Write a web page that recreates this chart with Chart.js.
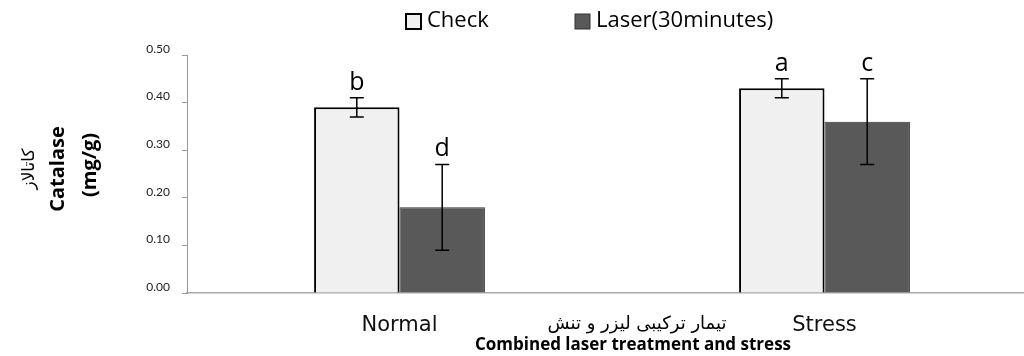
<!DOCTYPE html>
<html>
<head>
<meta charset="utf-8">
<script src="https://cdn.jsdelivr.net/npm/chart.js@4/dist/chart.umd.min.js"></script>
<style>
  html, body { margin: 0; padding: 0; background: #fff; overflow: hidden; }
  #wrap { position: relative; width: 1037px; height: 356px; }
</style>
</head>
<body>
<div id="wrap"><canvas id="myChart"></canvas></div>
<script>
// data
var categories = ['Normal', 'Stress'];
var seriesNames = ['Check', 'Laser(30minutes)'];
var checkValues = [0.39, 0.43];
var laserValues = [0.18, 0.36];
var checkErrors = [0.02, 0.02];
var laserErrors = [0.09, 0.09];
var checkLetters = ['b', 'a'];
var laserLetters = ['d', 'c'];
var yMin = 0, yMax = 0.5, yStep = 0.1;

var errors = [checkErrors, laserErrors];
var letters = [checkLetters, laserLetters];

// error bars, letters, titles and legend drawn on top
var extras = {
  id: 'extras',
  afterDatasetsDraw: function(chart) {
    var ctx = chart.ctx;
    var y = chart.scales.y;
    ctx.save();
    chart.data.datasets.forEach(function(ds, di) {
      var meta = chart.getDatasetMeta(di);
      meta.data.forEach(function(bar, i) {
        var v = ds.data[i], e = errors[di][i];
        var top = y.getPixelForValue(v + e);
        var bot = y.getPixelForValue(v - e);
        ctx.strokeStyle = '#000';
        ctx.lineWidth = 1.5;
        ctx.beginPath();
        ctx.moveTo(bar.x, top); ctx.lineTo(bar.x, bot);
        ctx.moveTo(bar.x - 7, top); ctx.lineTo(bar.x + 7, top);
        ctx.moveTo(bar.x - 7, bot); ctx.lineTo(bar.x + 7, bot);
        ctx.stroke();
        ctx.fillStyle = '#000';
        ctx.font = '25px "Open Sans"';
        ctx.textAlign = 'center';
        ctx.textBaseline = 'alphabetic';
        ctx.fillText(letters[di][i], bar.x, top - 8);
      });
    });
    ctx.restore();
  },
  afterDraw: function(chart) {
    var ctx = chart.ctx;
    ctx.save();
    ctx.fillStyle = '#000';
    // legend
    var items = [
      { x: 406, ds: chart.data.datasets[0] },
      { x: 575, ds: chart.data.datasets[1] }
    ];
    items.forEach(function(it) {
      ctx.fillStyle = it.ds.backgroundColor;
      ctx.fillRect(it.x, 14, 15, 15);
      ctx.strokeStyle = it.ds.borderColor;
      ctx.lineWidth = it.ds.borderWidth;
      ctx.strokeRect(it.x, 14, 15, 15);
      ctx.fillStyle = '#000';
      ctx.font = '22px "Open Sans"';
      ctx.textAlign = 'left';
      ctx.textBaseline = 'middle';
      ctx.fillText(it.ds.label, it.x + 21, 21);
    });
    // x titles
    ctx.textAlign = 'center';
    ctx.textBaseline = 'middle';
    ctx.font = '18px "DejaVu Sans"';
    ctx.fillText('تیمار ترکیبی لیزر و تنش', 637, 324);
    ctx.font = 'bold 17px "Open Sans"';
    ctx.fillText('Combined laser treatment and stress', 633, 345);
    // y titles
    ctx.save();
    ctx.translate(0, 169);
    ctx.rotate(-Math.PI / 2);
    ctx.font = '17px "DejaVu Sans"';
    ctx.fillText('کاتالاز', 0, 30);
    ctx.font = 'bold 20px "Open Sans"';
    ctx.fillText('Catalase', 0, 58);
    ctx.fillText('(mg/g)', 4, 90);
    ctx.restore();
    ctx.restore();
  }
};

var ctx = document.getElementById('myChart').getContext('2d');
var myChart = new Chart(ctx, {
  type: 'bar',
  data: {
    labels: categories,
    datasets: [{
      label: seriesNames[0],
      data: checkValues,
      backgroundColor: '#f0f0f0',
      borderColor: '#000',
      borderWidth: 2
    }, {
      label: seriesNames[1],
      data: laserValues,
      backgroundColor: '#595959',
      borderColor: '#333',
      borderWidth: 1
    }]
  },
  options: {
    responsive: true,
    maintainAspectRatio: false,
    animation: false,
    devicePixelRatio: 1,
    layout: { padding: { top: 55, left: 0, right: 0, bottom: 0 } },
    categoryPercentage: 0.402,
    barPercentage: 1.0,
    plugins: {
      legend: { display: false },
      tooltip: { enabled: false }
    },
    scales: {
      x: {
        grid: { display: false },
        border: { color: '#aaa', width: 1.5 },
        ticks: { color: '#111', font: { family: 'DejaVu Sans', size: 21 }, padding: 12 },
        afterFit: function(s) { s.height = 63; }
      },
      y: {
        min: yMin,
        max: yMax,
        grid: { drawOnChartArea: false, drawTicks: true, tickLength: 5, color: '#999' },
        border: { color: '#999', width: 1 },
        ticks: {
          stepSize: yStep,
          color: '#222',
          font: { family: 'Lato', size: 12 },
          padding: 12,
          labelOffset: -6,
          callback: function(v) { return v.toFixed(2); }
        },
        afterFit: function(s) { s.width = 187; }
      }
    }
  },
  plugins: [extras]
});
</script>
</body>
</html>
